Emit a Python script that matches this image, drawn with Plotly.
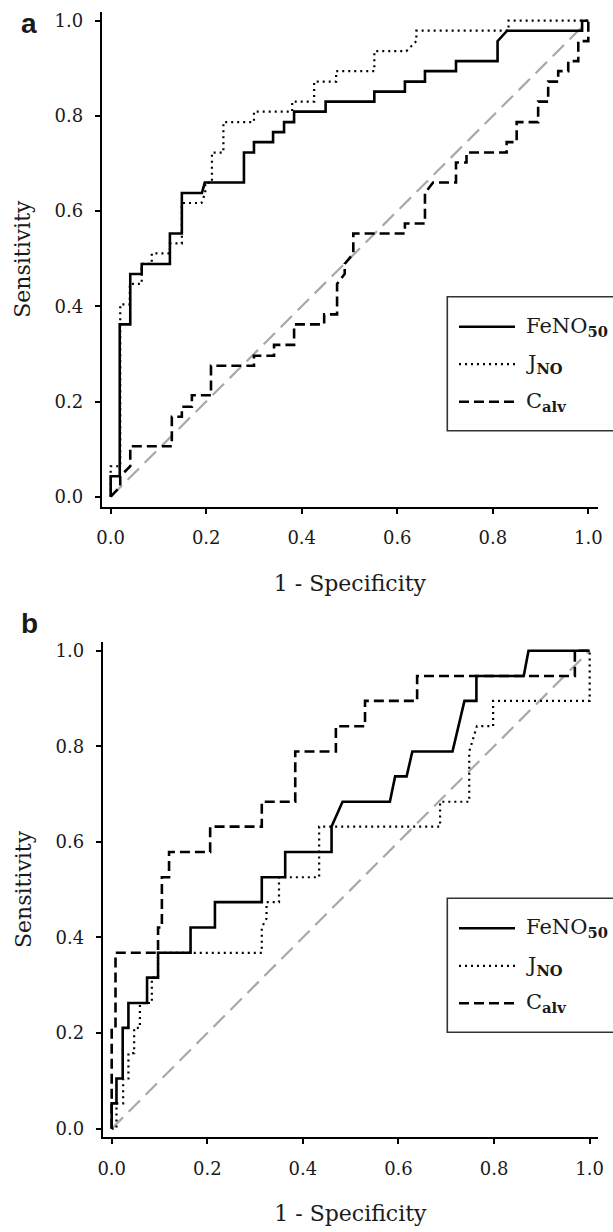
import plotly.graph_objects as go

W, H = 613, 1232

# ---------------- data: panel a (ROC vertices: 1-specificity, sensitivity) ----------------
a_feno_fpr = [0, 0, 0.019, 0.019, 0.041, 0.041, 0.065, 0.065, 0.124, 0.124, 0.149, 0.149,
              0.191, 0.197, 0.279, 0.279, 0.300, 0.300, 0.340, 0.340, 0.363, 0.363, 0.384, 0.384,
              0.450, 0.450, 0.552, 0.552, 0.616, 0.616, 0.658, 0.658, 0.723, 0.723, 0.810, 0.810,
              0.830, 0.987, 0.987, 1.0]
a_feno_tpr = [0, 0.043, 0.043, 0.362, 0.362, 0.468, 0.468, 0.489, 0.489, 0.553, 0.553, 0.638,
              0.638, 0.660, 0.660, 0.723, 0.723, 0.745, 0.745, 0.766, 0.766, 0.787, 0.787, 0.809,
              0.809, 0.830, 0.830, 0.851, 0.851, 0.872, 0.872, 0.894, 0.894, 0.915, 0.915, 0.957,
              0.979, 0.979, 1.0, 1.0]

a_jno_fpr = [0, 0, 0.020, 0.020, 0.040, 0.040, 0.065, 0.065, 0.086, 0.086, 0.124, 0.124,
             0.149, 0.149, 0.190, 0.198, 0.198, 0.212, 0.212, 0.236, 0.236, 0.300, 0.300, 0.380,
             0.380, 0.426, 0.426, 0.472, 0.472, 0.552, 0.552, 0.619, 0.640, 0.640, 0.833, 0.833, 1.0]
a_jno_tpr = [0, 0.064, 0.064, 0.404, 0.404, 0.447, 0.447, 0.489, 0.489, 0.511, 0.511, 0.532,
             0.532, 0.617, 0.617, 0.638, 0.660, 0.660, 0.723, 0.723, 0.787, 0.787, 0.809, 0.809,
             0.830, 0.830, 0.872, 0.872, 0.894, 0.894, 0.936, 0.936, 0.957, 0.979, 0.979, 1.0, 1.0]

a_calv_fpr = [0, 0.020, 0.020, 0.041, 0.041, 0.128, 0.128, 0.149, 0.149, 0.170, 0.170, 0.210,
              0.210, 0.300, 0.300, 0.342, 0.342, 0.384, 0.384, 0.447, 0.447, 0.474, 0.474, 0.490,
              0.490, 0.508, 0.508, 0.616, 0.616, 0.658, 0.658, 0.675, 0.723, 0.723, 0.745, 0.745,
              0.829, 0.829, 0.850, 0.850, 0.895, 0.895, 0.916, 0.916, 0.937, 0.937, 0.958, 0.958,
              0.979, 0.979, 1.0, 1.0]
a_calv_tpr = [0, 0.021, 0.043, 0.064, 0.106, 0.106, 0.168, 0.168, 0.189, 0.189, 0.213, 0.213,
              0.275, 0.275, 0.296, 0.296, 0.319, 0.319, 0.362, 0.362, 0.383, 0.383, 0.447, 0.468,
              0.489, 0.511, 0.553, 0.553, 0.574, 0.574, 0.638, 0.660, 0.660, 0.702, 0.702, 0.723,
              0.723, 0.745, 0.745, 0.787, 0.787, 0.830, 0.830, 0.872, 0.872, 0.894, 0.894, 0.915,
              0.915, 0.957, 0.957, 1.0]

# ---------------- data: panel b ----------------
b_feno_fpr = [0, 0, 0.010, 0.010, 0.023, 0.023, 0.035, 0.035, 0.074, 0.074, 0.097, 0.097,
              0.165, 0.165, 0.216, 0.216, 0.314, 0.314, 0.363, 0.363, 0.460, 0.460, 0.483, 0.582,
              0.593, 0.617, 0.629, 0.713, 0.738, 0.763, 0.763, 0.862, 0.872, 1.0]
b_feno_tpr = [0, 0.053, 0.053, 0.105, 0.105, 0.211, 0.211, 0.263, 0.263, 0.316, 0.316, 0.368,
              0.368, 0.421, 0.421, 0.474, 0.474, 0.526, 0.526, 0.579, 0.579, 0.632, 0.684, 0.684,
              0.737, 0.737, 0.789, 0.789, 0.895, 0.895, 0.947, 0.947, 1.0, 1.0]

b_jno_fpr = [0, 0.010, 0.010, 0.024, 0.024, 0.035, 0.035, 0.047, 0.047, 0.059, 0.059, 0.084,
             0.084, 0.097, 0.097, 0.314, 0.314, 0.324, 0.324, 0.350, 0.350, 0.434, 0.434, 0.687,
             0.687, 0.748, 0.748, 0.764, 0.798, 0.798, 1.0, 1.0]
b_jno_tpr = [0, 0, 0.053, 0.053, 0.105, 0.105, 0.158, 0.158, 0.211, 0.211, 0.263, 0.263,
             0.316, 0.316, 0.368, 0.368, 0.421, 0.440, 0.474, 0.474, 0.526, 0.526, 0.632, 0.632,
             0.684, 0.684, 0.789, 0.842, 0.842, 0.895, 0.895, 1.0]

b_calv_fpr = [0, 0, 0.008, 0.008, 0.097, 0.097, 0.105, 0.105, 0.120, 0.120, 0.206, 0.206,
              0.314, 0.314, 0.384, 0.384, 0.469, 0.469, 0.530, 0.530, 0.639, 0.639, 0.969, 0.969, 1.0]
b_calv_tpr = [0, 0.211, 0.211, 0.368, 0.368, 0.421, 0.421, 0.526, 0.526, 0.579, 0.579, 0.632,
              0.632, 0.684, 0.684, 0.789, 0.789, 0.842, 0.842, 0.895, 0.895, 0.947, 0.947, 1.0, 1.0]

chance = [0, 1]

tick_vals = [0, 0.2, 0.4, 0.6, 0.8, 1.0]
tick_text = ["0.0", "0.2", "0.4", "0.6", "0.8", "1.0"]
legend_names = ["FeNO<sub><b>50</b></sub>", "J<sub><b>NO</b></sub>", "C<sub><b>alv</b></sub>"]
panel_labels = ["a", "b"]

# ---------------- styles ----------------
SERIF = "DejaVu Serif"
TXT = "#1a1a1a"
STYLES = [dict(color="black", width=2.6, dash="solid"),
          dict(color="black", width=2.2, dash="2px,4px"),
          dict(color="black", width=2.6, dash="10px,5px")]
CHANCE_STYLE = dict(color="#a8a8a8", width=2.2, dash="16px,8px")

fig = go.Figure()

panels = [
    ("x", "y", [(a_feno_fpr, a_feno_tpr), (a_jno_fpr, a_jno_tpr), (a_calv_fpr, a_calv_tpr)]),
    ("x2", "y2", [(b_feno_fpr, b_feno_tpr), (b_jno_fpr, b_jno_tpr), (b_calv_fpr, b_calv_tpr)]),
]
for xa, ya, series in panels:
    fig.add_trace(go.Scatter(x=chance, y=chance, mode="lines", line=CHANCE_STYLE,
                             xaxis=xa, yaxis=ya, showlegend=False, hoverinfo="skip"))
    for (fx, fy), st, nm in zip(series, STYLES, legend_names):
        fig.add_trace(go.Scatter(x=fx, y=fy, mode="lines", line=st, name=nm,
                                 xaxis=xa, yaxis=ya, showlegend=False))


def px_x(p):
    return p / W


def px_y(p):
    return 1 - p / H


# pixel geometry of the two panels
geo = [
    dict(left=101.7, right=598, top=11.7, bottom=506.7,
         xr=[-0.0188, 1.0203], yr=[-0.021, 1.0189], leg_top=296.7, letter=(29, 23)),
    dict(left=102.7, right=598, top=641.7, bottom=1137.3,
         xr=[-0.0188, 1.0174], yr=[-0.018, 1.0188], leg_top=898.3, letter=(29, 624)),
]

axis_common = dict(showline=True, linecolor="black", linewidth=2, ticks="outside",
                   ticklen=5, tickwidth=2, tickcolor="black", showgrid=False, zeroline=False,
                   tickvals=tick_vals, ticktext=tick_text,
                   tickfont=dict(family=SERIF, size=18, color=TXT), fixedrange=True)

layout_axes = {}
shapes = []
annotations = []
for i, g in enumerate(geo):
    sx = "" if i == 0 else str(i + 1)
    layout_axes["xaxis" + sx] = dict(
        axis_common, domain=[px_x(g["left"]), px_x(g["right"])], range=g["xr"],
        anchor="y" + sx, ticklabelstandoff=9,
        title=dict(text="1 - Specificity", font=dict(family=SERIF, size=22, color=TXT), standoff=28))
    layout_axes["yaxis" + sx] = dict(
        axis_common, domain=[px_y(g["bottom"]), px_y(g["top"])], range=g["yr"],
        anchor="x" + sx, ticklabelstandoff=8,
        title=dict(text="Sensitivity", font=dict(family=SERIF, size=22, color=TXT), standoff=18))

    # panel letter
    lx, ly = g["letter"]
    annotations.append(dict(text="<b>%s</b>" % panel_labels[i], x=px_x(lx), y=px_y(ly),
                            xref="paper", yref="paper", showarrow=False,
                            xanchor="center", yanchor="middle",
                            font=dict(family="Liberation Sans", size=28, color=TXT)))

    # legend box (drawn manually to match the long line samples)
    t = g["leg_top"]
    shapes.append(dict(type="rect", xref="paper", yref="paper",
                       x0=px_x(447.3), x1=px_x(640), y0=px_y(t + 134), y1=px_y(t),
                       line=dict(color="#333333", width=1.6), fillcolor="white", layer="above"))
    for k, (st, nm) in enumerate(zip(STYLES, legend_names)):
        ry = t + 30 + k * 37.5
        shapes.append(dict(type="line", xref="paper", yref="paper",
                           x0=px_x(459), x1=px_x(515), y0=px_y(ry), y1=px_y(ry),
                           line=st, layer="above"))
        annotations.append(dict(text=nm, x=px_x(524), y=px_y(ry), xref="paper", yref="paper",
                                showarrow=False, xanchor="left", yanchor="middle",
                                font=dict(family=SERIF, size=21, color=TXT)))

fig.update_layout(
    width=W, height=H,
    margin=dict(l=0, r=0, t=0, b=0, autoexpand=False),
    paper_bgcolor="white", plot_bgcolor="white",
    showlegend=False,
    shapes=shapes, annotations=annotations,
    **layout_axes,
)

fig.write_html("out.html", config={"displayModeBar": False},
               post_script="document.body.style.margin='0';document.body.style.padding='0';")
